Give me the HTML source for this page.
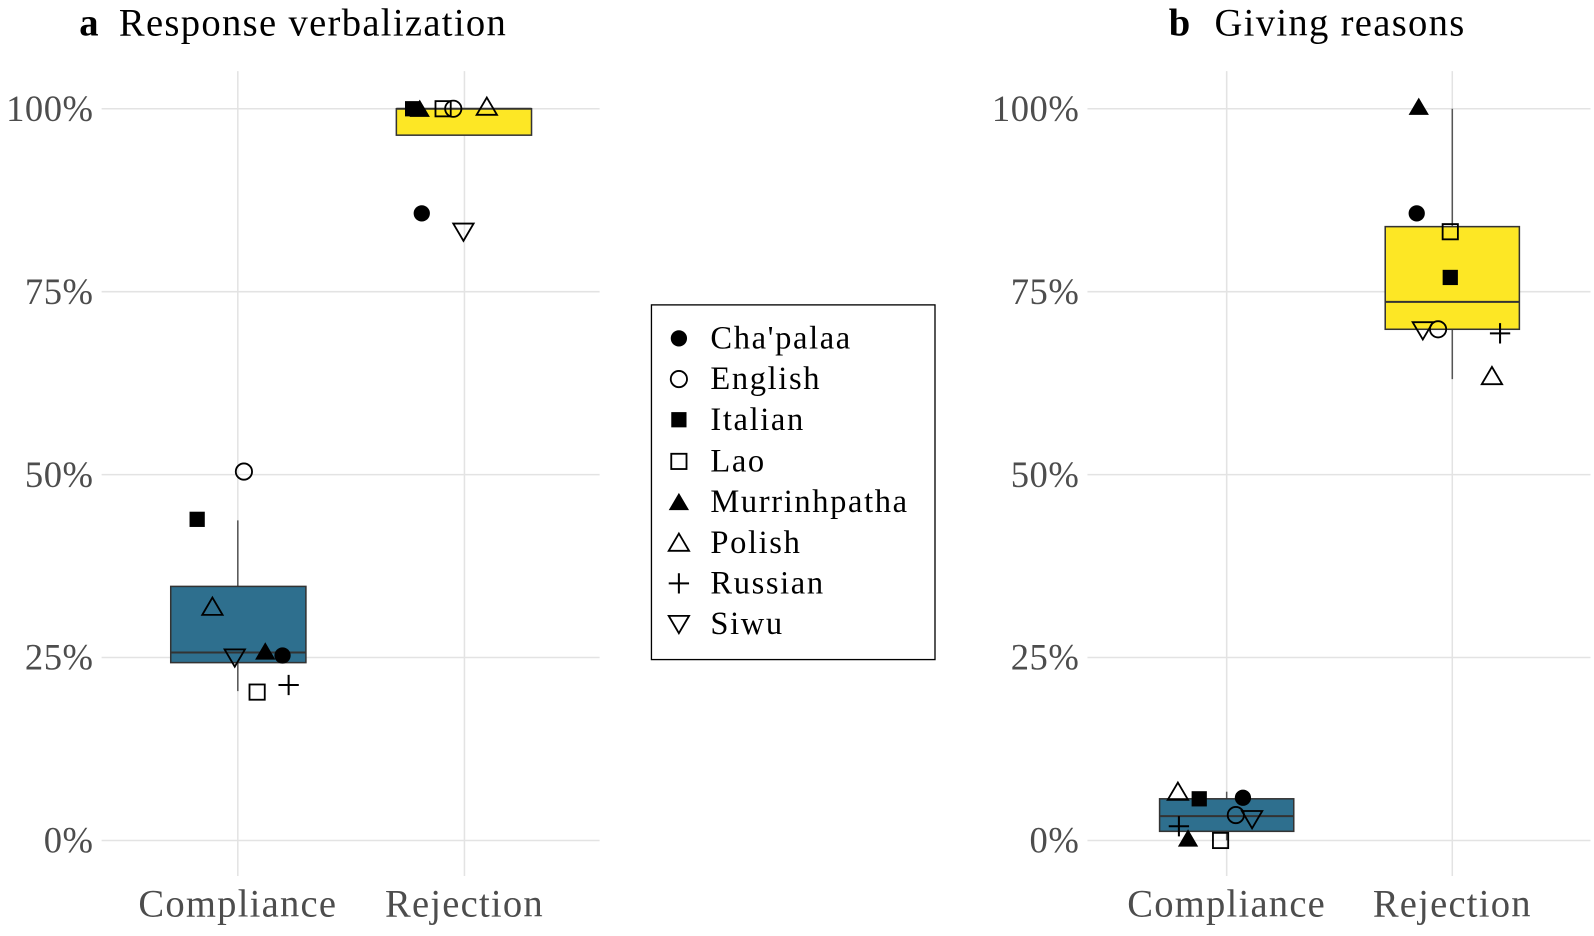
<!DOCTYPE html>
<html><head><meta charset="utf-8"><style>
body{margin:0;background:#fff}
svg{display:block}
text{font-family:"Liberation Serif",serif}
</style></head><body>
<svg width="1594" height="936" viewBox="0 0 1594 936" xmlns="http://www.w3.org/2000/svg">
<defs>
<circle id="fc" r="8" fill="#000"/>
<circle id="oc" r="8" fill="none" stroke="#000" stroke-width="1.8"/>
<rect id="fs" x="-7.5" y="-7.5" width="15" height="15" fill="#000"/>
<rect id="os" x="-7.5" y="-7.5" width="15" height="15" fill="none" stroke="#000" stroke-width="1.8"/>
<polygon id="ft" points="0,-9 10,8 -10,8" fill="#000"/>
<polygon id="ot" points="0,-9 10,8 -10,8" fill="none" stroke="#000" stroke-width="1.8"/>
<path id="pl" d="M-10,0H10M0,-10V10" stroke="#000" stroke-width="2"/>
<polygon id="dt" points="0,9 10,-8 -10,-8" fill="none" stroke="#000" stroke-width="1.8"/>
</defs>
<g transform="scale(1.0163)">
<g stroke="#e3e3e3" stroke-width="1.5">
<line x1="100" x2="590" y1="107" y2="107"/><line x1="100" x2="590" y1="287" y2="287"/><line x1="100" x2="590" y1="467" y2="467"/><line x1="100" x2="590" y1="647" y2="647"/><line x1="100" x2="590" y1="827" y2="827"/>
<line x1="234" x2="234" y1="70" y2="862"/><line x1="457" x2="457" y1="70" y2="862"/>
<line x1="1070" x2="1565" y1="107" y2="107"/><line x1="1070" x2="1565" y1="287" y2="287"/><line x1="1070" x2="1565" y1="467" y2="467"/><line x1="1070" x2="1565" y1="647" y2="647"/><line x1="1070" x2="1565" y1="827" y2="827"/>
<line x1="1207" x2="1207" y1="70" y2="862"/><line x1="1429" x2="1429" y1="70" y2="862"/>
</g>
<g font-size="36" fill="#4d4d4d" text-anchor="end" letter-spacing="0.5">
<text x="92" y="119">100%</text><text x="92" y="299">75%</text><text x="92" y="479">50%</text><text x="92" y="659">25%</text><text x="92" y="839">0%</text>
<text x="1062" y="119">100%</text><text x="1062" y="299">75%</text><text x="1062" y="479">50%</text><text x="1062" y="659">25%</text><text x="1062" y="839">0%</text>
</g>
<g font-size="38" fill="#4d4d4d" text-anchor="middle" letter-spacing="1.2">
<text x="234" y="902">Compliance</text><text x="457" y="902">Rejection</text>
<text x="1207" y="902">Compliance</text><text x="1429" y="902">Rejection</text>
</g>
<text x="78" y="35" font-size="38" font-weight="bold" fill="#000">a</text>
<text x="117" y="35" font-size="38" fill="#000" letter-spacing="1.3">Response verbalization</text>
<text x="1150" y="35" font-size="38" font-weight="bold" fill="#000">b</text>
<text x="1195" y="35" font-size="38" fill="#000" letter-spacing="1.3">Giving reasons</text>
<g stroke="#555" stroke-width="1.5">
<line x1="234" x2="234" y1="512" y2="680"/>
<rect x="168" y="577" width="133" height="75" fill="#2e6f8e" stroke="#333"/>
<line x1="168" x2="301" y1="642" y2="642" stroke="#333" stroke-width="2"/>
<rect x="390" y="107" width="133" height="26" fill="#fde725" stroke="#333"/>
<line x1="390" x2="523" y1="107" y2="107" stroke="#333" stroke-width="2"/>
<line x1="1207" x2="1207" y1="779" y2="827"/>
<rect x="1141" y="786" width="132" height="32" fill="#2e6f8e" stroke="#333"/>
<line x1="1141" x2="1273" y1="803" y2="803" stroke="#333" stroke-width="2"/>
<line x1="1429" x2="1429" y1="107" y2="373"/>
<rect x="1363" y="223" width="132" height="101" fill="#fde725" stroke="#333"/>
<line x1="1363" x2="1495" y1="297" y2="297" stroke="#333" stroke-width="2"/>
</g>
<use href="#fc" x="278" y="645"/><use href="#oc" x="240" y="464"/><use href="#fs" x="194" y="511"/><use href="#os" x="253" y="681"/>
<use href="#ft" x="261" y="641"/><use href="#ot" x="209" y="597"/><use href="#pl" x="284" y="674"/><use href="#dt" x="231" y="647"/>
<use href="#fs" x="406" y="107"/><use href="#ft" x="413" y="107"/><use href="#os" x="436" y="107"/><use href="#oc" x="446" y="107"/><use href="#ot" x="479" y="105"/>
<use href="#fc" x="415" y="210"/><use href="#dt" x="456" y="228"/>
<use href="#ot" x="1159" y="779"/><use href="#fs" x="1180" y="786"/><use href="#fc" x="1223" y="785"/><use href="#oc" x="1216" y="802"/><use href="#dt" x="1232" y="806"/>
<use href="#pl" x="1160" y="813"/><use href="#ft" x="1169" y="825"/><use href="#os" x="1201" y="827"/>
<use href="#ft" x="1396" y="105"/><use href="#fc" x="1394" y="210"/><use href="#os" x="1427" y="228"/><use href="#fs" x="1427" y="273"/>
<use href="#dt" x="1400" y="325"/><use href="#oc" x="1415" y="324"/><use href="#pl" x="1476" y="328"/><use href="#ot" x="1468" y="370"/>
<rect x="641" y="300" width="279" height="349" fill="#fff" stroke="#000" stroke-width="1.3"/>
<use href="#fc" x="668" y="333"/><use href="#oc" x="668" y="373"/><use href="#fs" x="668" y="413"/><use href="#os" x="668" y="454"/>
<use href="#ft" x="668" y="494"/><use href="#ot" x="668" y="534"/><use href="#pl" x="668" y="574"/><use href="#dt" x="668" y="614"/>
<g font-size="32" fill="#000" letter-spacing="1.6">
<text x="699" y="343">Cha'palaa</text><text x="699" y="383">English</text><text x="699" y="423">Italian</text><text x="699" y="464">Lao</text>
<text x="699" y="504">Murrinhpatha</text><text x="699" y="544">Polish</text><text x="699" y="584">Russian</text><text x="699" y="624">Siwu</text>
</g>
</g>
</svg>
</body></html>
